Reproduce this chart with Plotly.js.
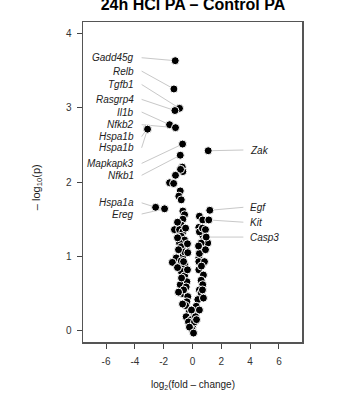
<!DOCTYPE html>
<html>
<head>
<meta charset="utf-8">
<script src="https://cdn.plot.ly/plotly-3.0.1.min.js"></script>
<style>html,body{margin:0;padding:0;background:#fff;}#chart{width:351px;height:397px;}</style>
</head>
<body>
<div id="chart"></div>
<script>
// Labeled genes
const geneNames = ['Gadd45g','Relb','Tgfb1','Rasgrp4','Il1b','Nfkb2','Hspa1b','Hspa1b','Mapkapk3','Nfkb1','Zak','Hspa1a','Ereg','Egf','Kit','Casp3'];
const geneFC    = [-1.20,-1.29,-0.90,-1.22,-1.59,-1.18,-3.14,-3.12,-0.69,-0.85,1.09,-2.56,-1.94,1.20,1.13,0.95];
const geneP     = [3.63,3.25,2.99,2.96,2.77,2.73,2.72,2.71,2.51,2.36,2.42,1.66,1.64,1.62,1.49,1.26];

// Other genes
const bgFC = [-0.71,-0.67,-0.83,-1.18,-1.59,-1.31,-0.85,-0.95,-0.78,-0.67,-0.55,-0.67,-0.78,-1.25,-0.90,-0.67,-0.78,-0.55,-0.90,-0.67,-0.44,-1.13,-0.67,
  0.48,0.71,0.44,0.71,0.83,1.06,0.48,0.44,
  -0.78,-0.55,-0.33,-1.13,-1.40,-0.78,-0.55,-0.78,-0.55,-0.67,-0.39,-0.85,-0.44,-0.67,-0.33,-0.39,-0.21,0.14,-0.44,-0.09,0.02,-0.02,
  0.60,0.48,0.44,0.44,0.76,0.60,0.71,0.48,0.60,0.37,0.26,0.48,0.21,
  -1.04,-0.48,-1.04,-0.35,-0.97,-0.62,-1.04,-0.35,-0.76,-0.62,-0.97,-0.48,-0.69,-0.07,-0.28,0.14,-0.21,0.07,0.28,0.69,0.83,0.62,0.90,0.76,0.42,0.48,0.69,0.90];
const bgP = [2.20,2.14,2.17,2.09,1.99,1.98,1.88,1.81,1.76,1.61,1.56,1.50,1.42,1.36,1.36,1.33,1.27,1.22,1.18,1.11,1.09,0.99,1.00,
  1.54,1.49,1.39,1.28,1.22,1.18,1.05,0.98,
  1.13,1.06,1.05,0.98,0.92,0.94,0.89,0.80,0.74,0.68,0.66,0.62,0.59,0.50,0.46,0.39,0.26,0.21,0.19,0.15,0.07,0.01,
  1.18,1.04,0.93,0.82,0.75,0.68,0.62,0.55,0.51,0.42,0.33,0.28,0.19,
  1.46,1.38,1.25,1.17,1.09,0.93,0.85,0.82,0.71,0.55,0.52,0.34,0.36,0.28,0.12,0.12,0.05,-0.03,0.15,0.55,0.93,0.87,1.09,0.44,1.14,1.33,1.38,1.36];

// Label placement (data units) — layout, not data
const labelX    = [-3.94,-3.94,-3.94,-3.94,-3.94,-3.94,-3.94,-3.94,-3.94,-3.94,3.88,-3.94,-3.94,3.88,3.88,3.88];
const labelY    = [3.67,3.49,3.31,3.11,2.94,2.77,2.61,2.46,2.25,2.09,2.43,1.72,1.57,1.66,1.46,1.26];

const xTickVals = [-6,-4,-2,0,2,4,6];
const xTickText = ['-6','-4','-2','0','2','4','6'];
const yTickVals = [0,1,2,3,4];
const yTickText = ['0','1','2','3','4'];

const FONT = 'Liberation Sans, Arial, sans-serif';

const marker = {color:'#000', size:8, line:{color:'#fff', width:1}};
const traces = [
  {x:bgFC, y:bgP, type:'scatter', mode:'markers', marker:marker, hoverinfo:'x+y'},
  {x:geneFC, y:geneP, text:geneNames, type:'scatter', mode:'markers', marker:marker, hoverinfo:'text'}
];

const annotations = [];
const shapes = [];
geneNames.forEach((g,i)=>{
  const left = labelX[i] < 0;
  annotations.push({
    x: labelX[i], y: labelY[i], xref:'x', yref:'y', text:g, showarrow:false,
    xanchor: left ? 'right' : 'left', yanchor:'middle',
    font:{family:FONT, size:10, color:'#222', style:'italic'}
  });
  shapes.push({
    type:'line', xref:'x', yref:'y', layer:'below',
    x0: left ? labelX[i] + 0.41 : labelX[i] - 0.35, y0: labelY[i],
    x1: geneFC[i], y1: geneP[i],
    line:{color:'#c8c8c8', width:1}
  });
});
annotations.push({
  xref:'paper', yref:'paper', x:0.502, y:-0.134, showarrow:false,
  text:'log<sub>2</sub>(fold \u2013 change)', xanchor:'center', yanchor:'middle',
  font:{family:FONT, size:10, color:'#222'}
});
annotations.push({
  xref:'paper', yref:'paper', x:-0.21, y:0.484, showarrow:false, textangle:-90,
  text:'\u2013 log<sub>10</sub>(p)', xanchor:'center', yanchor:'middle',
  font:{family:FONT, size:11, color:'#222'}
});

const axisCommon = {
  showgrid:false, zeroline:false, showline:true, mirror:true,
  linecolor:'#555', linewidth:1.5,
  ticks:'outside', ticklen:5, tickwidth:1, tickcolor:'#444',
  tickfont:{family:FONT, size:10, color:'#333'}, fixedrange:true
};

const layout = {
  width:351, height:397,
  margin:{l:83, r:49, t:22, b:55},
  paper_bgcolor:'#fff', plot_bgcolor:'#fff',
  showlegend:false,
  title:{text:'24h HCl PA \u2013 Control PA', x:0.502, xref:'paper', xanchor:'center',
         y:0.989, yref:'container', yanchor:'middle',
         font:{family:FONT, size:16, color:'#000', weight:'bold'}},
  xaxis: Object.assign({}, axisCommon, {range:[-7.6,7.6], tickmode:'array', tickvals:xTickVals, ticktext:xTickText, ticklabelstandoff:4}),
  yaxis: Object.assign({}, axisCommon, {range:[-0.15,4.15], tickmode:'array', tickvals:yTickVals, ticktext:yTickText, ticklabelstandoff:3}),
  annotations:annotations,
  shapes:shapes
};

Plotly.newPlot('chart', traces, layout, {displayModeBar:false, staticPlot:true});
</script>
</body>
</html>
